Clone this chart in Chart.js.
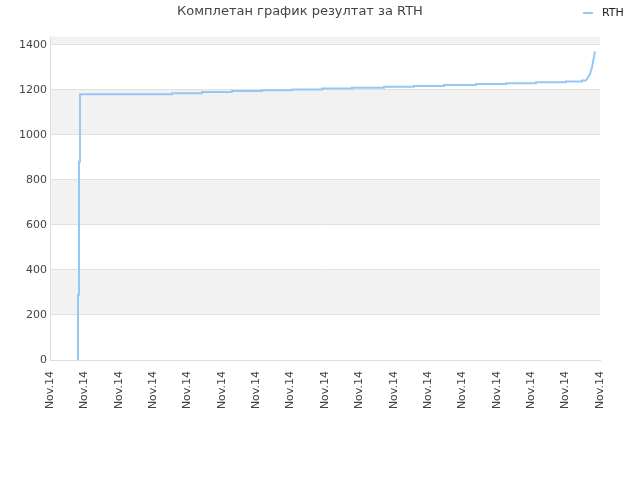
<!DOCTYPE html>
<html>
<head>
<meta charset="utf-8">
<script src="https://cdn.jsdelivr.net/npm/chart.js@4"></script>
<style>
  body { margin: 0; background: #fff; }
  #wrap { width: 640px; height: 480px; }
</style>
</head>
<body>
<div id="wrap"><canvas id="rthChart" width="640" height="480"></canvas></div>
<script>
const titleText = "Комплетан график резултат за RTH";
const seriesName = "RTH";
const tickLabel = "Nov.14";
const tickCount = 17;
// positions along the time axis (0..550) and score values
const timePos = [28, 28, 29, 29, 30, 30, 122, 122, 152, 152, 182, 182, 212, 212, 242, 242, 272, 272, 302, 302,
  334, 334, 364, 364, 394, 394, 426, 426, 456, 456, 486, 486, 516, 516, 532, 532, 536, 540, 542, 545];
const scores = [0, 290, 290, 880, 880, 1180, 1180, 1185, 1185, 1190, 1190, 1194, 1194, 1198, 1198, 1201, 1201, 1205, 1205, 1209,
  1209, 1213, 1213, 1217, 1217, 1221, 1221, 1225, 1225, 1229, 1229, 1233, 1233, 1237, 1237, 1241, 1241, 1270, 1300, 1370];
const grayBands = [[200, 400], [600, 800], [1000, 1200], [1400, 1436]];

const bandPlugin = {
  id: "bands",
  beforeDraw(chart) {
    const { ctx, chartArea, scales } = chart;
    ctx.save();
    ctx.fillStyle = "#f2f2f2";
    grayBands.forEach(([lo, hi]) => {
      const y1 = scales.y.getPixelForValue(hi);
      const y2 = scales.y.getPixelForValue(lo);
      ctx.fillRect(chartArea.left, y1, chartArea.right - chartArea.left, y2 - y1);
    });
    ctx.restore();
  },
  afterDraw(chart) {
    // legend in the title row, top right
    const c = chart.ctx;
    c.save();
    c.fillStyle = "rgba(150,200,245,1)";
    c.fillRect(583, 12, 10, 2);
    c.fillStyle = "#222";
    c.font = "11px 'DejaVu Sans'";
    c.textBaseline = "middle";
    c.fillText(seriesName, 602, 13);
    c.restore();
  }
};

const ctx = document.getElementById("rthChart").getContext("2d");
new Chart(ctx, {
  type: "line",
  data: {
    datasets: [{
      label: seriesName,
      data: timePos.map((x, i) => ({ x: x, y: scores[i] })),
      borderColor: "rgba(150,200,245,1)",
      borderWidth: 2,
      pointRadius: 0,
      tension: 0
    }]
  },
  options: {
    responsive: false,
    animation: false,
    layout: { padding: { left: 0, right: 40, top: 0, bottom: 0 } },
    plugins: {
      title: { display: true, text: titleText, color: "#444", font: { family: "DejaVu Sans", size: 13, weight: "normal" }, padding: { top: 4, bottom: 17 } },
      legend: { display: false },
      tooltip: { enabled: false }
    },
    scales: {
      x: {
        type: "linear", min: 0, max: 550,
        afterBuildTicks(axis) {
          axis.ticks = Array.from({ length: tickCount }, (_, i) => ({ value: i * 550 / (tickCount - 1) }));
        },
        afterFit(axis) { axis.height = 120; },
        ticks: { callback: () => tickLabel, maxRotation: 90, minRotation: 90, color: "#444", font: { family: "DejaVu Sans", size: 11 }, autoSkip: false },
        grid: { display: false },
        border: { color: "#ddd" }
      },
      y: {
        min: 0, max: 1436,
        afterBuildTicks(axis) {
          axis.ticks = [0, 200, 400, 600, 800, 1000, 1200, 1400].map(v => ({ value: v }));
        },
        afterFit(axis) { axis.width = 50; },
        ticks: { callback: v => String(v), color: "#444", font: { family: "DejaVu Sans", size: 11 } },
        grid: { color: "#e0e0e0", drawTicks: false },
        border: { color: "#ddd" }
      }
    }
  },
  plugins: [bandPlugin]
});
</script>
</body>
</html>
